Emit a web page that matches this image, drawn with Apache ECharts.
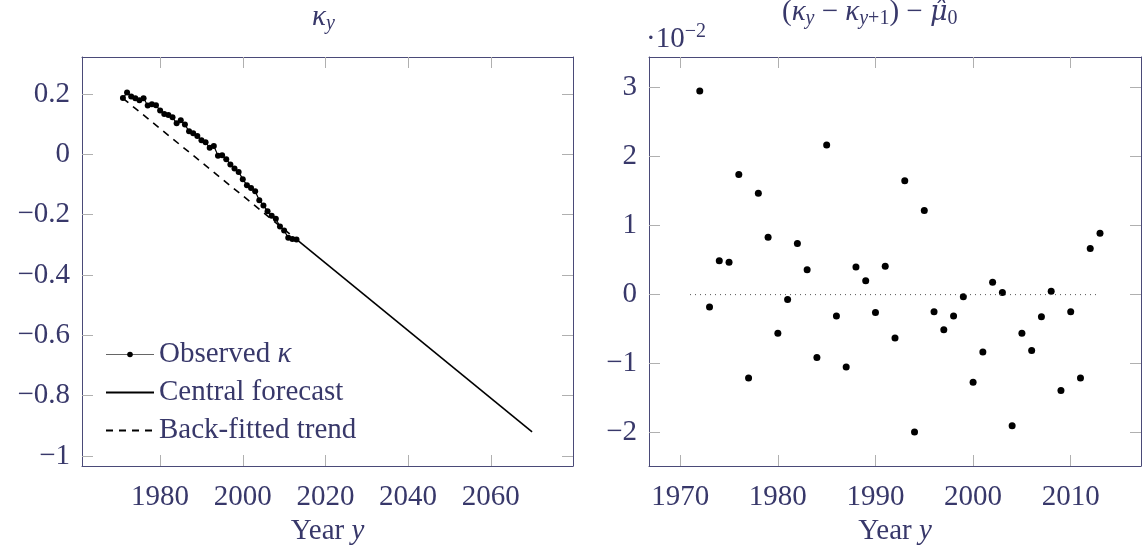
<!DOCTYPE html>
<html>
<head>
<meta charset="utf-8">
<script src="https://cdn.jsdelivr.net/npm/echarts@6/dist/echarts.min.js"></script>
<style>html,body{margin:0;padding:0;background:#fff}#c{width:1143px;height:550px}</style>
</head>
<body>
<div id="c"></div>
<script>
// ---------- data ----------
const obsYears = [1971,1972,1973,1974,1975,1976,1977,1978,1979,1980,1981,1982,1983,1984,1985,1986,1987,1988,1989,1990,1991,1992,1993,1994,1995,1996,1997,1998,1999,2000,2001,2002,2003,2004,2005,2006,2007,2008,2009,2010,2011,2012,2013];
const obsKappa = [0.187,0.205,0.192,0.186,0.180,0.186,0.162,0.166,0.163,0.146,0.134,0.131,0.123,0.103,0.113,0.099,0.077,0.070,0.061,0.047,0.040,0.022,0.028,-0.004,-0.003,-0.016,-0.033,-0.047,-0.058,-0.082,-0.102,-0.111,-0.122,-0.152,-0.169,-0.188,-0.203,-0.213,-0.239,-0.252,-0.276,-0.280,-0.282];
const forecastYears = [2013, 2070];
const forecastKappa = [-0.282, -0.920];
const trendYears = [1971, 2013];
const trendKappa = [0.186, -0.282];

const diffYears = [1972,1973,1974,1975,1976,1977,1978,1979,1980,1981,1982,1983,1984,1985,1986,1987,1988,1989,1990,1991,1992,1993,1994,1995,1996,1997,1998,1999,2000,2001,2002,2003,2004,2005,2006,2007,2008,2009,2010,2011,2012,2013];
const diffVals = [2.95,-0.18,0.49,0.47,1.74,-1.21,1.47,0.83,-0.56,-0.07,0.74,0.36,-0.91,2.17,-0.31,-1.05,0.40,0.20,-0.26,0.41,-0.63,1.65,-1.99,1.22,-0.25,-0.51,-0.31,-0.03,-1.27,-0.83,0.18,0.03,-1.90,-0.56,-0.81,-0.32,0.05,-1.39,-0.25,-1.21,0.67,0.89];
const zeroLineYears = [1971, 2013];
const zeroLineVals = [0, 0];

const leftXTicks = [1980, 2000, 2020, 2040, 2060];
const leftYTicks = [-1, -0.8, -0.6, -0.4, -0.2, 0, 0.2];
const rightXTicks = [1970, 1980, 1990, 2000, 2010];
const rightYTicks = [-2, -1, 0, 1, 2, 3];

// ---------- styling ----------
const FONT = '"Liberation Serif", "DejaVu Serif", serif';
const TXT = '#38386a';
const AXC = '#4a4a78';
const TICKC = '#b0b0b0';
const FS = 29;
const SFS = 20;

const pair = (xs, ys) => xs.map((x, i) => [x, ys[i]]);
const fmt = v => {
  let s = String(Math.round(v * 1000) / 1000);
  return s.replace('-', '\u2212');
};

function xAxis(gi, min, max, ticks, pos, showLabel, name) {
  return {
    type: 'value', gridIndex: gi, min, max, position: pos,
    axisLine: {show: true, onZero: false, lineStyle: {color: AXC, width: 1}},
    axisTick: {show: true, inside: true, length: 11, customValues: ticks, lineStyle: {color: TICKC, width: 1}},
    axisLabel: {show: showLabel, customValues: ticks, formatter: fmt, color: TXT, fontFamily: FONT, fontSize: FS, margin: 17},
    splitLine: {show: false},
    name: name || '', nameLocation: 'middle', nameGap: 47,
    nameTextStyle: {color: TXT, fontFamily: FONT, fontSize: FS,
      rich: {i: {fontStyle: 'italic', color: TXT, fontFamily: FONT, fontSize: FS}}}
  };
}
function yAxis(gi, min, max, ticks, pos, showLabel) {
  return {
    type: 'value', gridIndex: gi, min, max, position: pos,
    axisLine: {show: true, onZero: false, lineStyle: {color: AXC, width: 1}},
    axisTick: {show: true, inside: true, length: 11, customValues: ticks, lineStyle: {color: TICKC, width: 1}},
    axisLabel: {show: showLabel, customValues: ticks, formatter: fmt, color: TXT, fontFamily: FONT, fontSize: FS, margin: 12},
    splitLine: {show: false}
  };
}

const chart = echarts.init(document.getElementById('c'), null, {renderer: 'canvas'});
chart.setOption({
  backgroundColor: '#fff',
  animation: false,
  grid: [
    {left: 82, top: 57, width: 491, height: 409, outerBoundsMode: 'none', containLabel: false},
    {left: 649, top: 57, width: 492, height: 409, outerBoundsMode: 'none', containLabel: false}
  ],
  xAxis: [
    xAxis(0, 1961.1, 2079.9, leftXTicks, 'bottom', true, 'Year {i|y}'),
    xAxis(0, 1961.1, 2079.9, leftXTicks, 'top', false),
    xAxis(1, 1966.8, 2017.2, rightXTicks, 'bottom', true, 'Year {i|y}'),
    xAxis(1, 1966.8, 2017.2, rightXTicks, 'top', false)
  ],
  yAxis: [
    yAxis(0, -1.033, 0.323, leftYTicks, 'left', true),
    yAxis(0, -1.033, 0.323, leftYTicks, 'right', false),
    yAxis(1, -2.484, 3.444, rightYTicks, 'left', true),
    yAxis(1, -2.484, 3.444, rightYTicks, 'right', false)
  ],
  legend: {
    left: 100, top: 335, orient: 'vertical', itemWidth: 48, itemHeight: 7, itemGap: 9,
    textStyle: {color: TXT, fontFamily: FONT, fontSize: FS,
      rich: {i: {fontStyle: 'italic', color: TXT, fontFamily: FONT, fontSize: FS}}},
    formatter: n => n === 'Observed κ' ? 'Observed {i|κ}' : n,
    data: [
      {name: 'Observed κ', itemStyle: {color: '#000'}, lineStyle: {color: '#666', width: 1.2}},
      {name: 'Central forecast', itemStyle: {opacity: 0}},
      {name: 'Back-fitted trend', itemStyle: {opacity: 0}}
    ]
  },
  series: [
    {name: 'Back-fitted trend', type: 'line', xAxisIndex: 0, yAxisIndex: 0, data: pair(trendYears, trendKappa),
      showSymbol: false, symbol: 'none', lineStyle: {color: '#000', width: 1.6, type: [7, 6]}, itemStyle: {color: '#000'}},
    {name: 'Central forecast', type: 'line', xAxisIndex: 0, yAxisIndex: 0, data: pair(forecastYears, forecastKappa),
      showSymbol: false, symbol: 'none', lineStyle: {color: '#000', width: 1.6}, itemStyle: {color: '#000'}},
    {name: 'Observed κ', type: 'line', xAxisIndex: 0, yAxisIndex: 0, data: pair(obsYears, obsKappa),
      symbol: 'circle', symbolSize: 6, lineStyle: {color: '#000', width: 1.2}, itemStyle: {color: '#000'}},
    {type: 'line', xAxisIndex: 2, yAxisIndex: 2, data: pair(zeroLineYears, zeroLineVals),
      symbol: 'none', lineStyle: {color: '#555', width: 1, type: [1, 4]}, silent: true},
    {type: 'scatter', xAxisIndex: 2, yAxisIndex: 2, data: pair(diffYears, diffVals),
      symbol: 'circle', symbolSize: 7, itemStyle: {color: '#000', opacity: 1}}
  ],
  graphic: [
    {type: 'text', left: 312, top: 3, style: {
      text: '{i|κ}{s|y}', fill: TXT,
      rich: {i: {fontStyle: 'italic', fontFamily: FONT, fontSize: FS, fill: TXT},
             s: {fontStyle: 'italic', fontFamily: FONT, fontSize: SFS, fill: TXT, padding: [12, 0, 0, 0]}}}},
    {type: 'text', left: 782, top: -2, style: {
      text: '{n|(}{i|κ}{s|y}{n| \u2212 }{i|κ}{s|y}{u|+1}{n|) \u2212 }{m|μ\u0302}{u|0}', fill: TXT,
      rich: {n: {fontFamily: FONT, fontSize: FS, fill: TXT},
             i: {fontStyle: 'italic', fontFamily: FONT, fontSize: FS, fill: TXT},
             m: {fontStyle: 'italic', fontFamily: '"DejaVu Serif", serif', fontSize: FS - 2, fill: TXT},
             s: {fontStyle: 'italic', fontFamily: FONT, fontSize: SFS, fill: TXT, padding: [12, 0, 0, 0]},
             u: {fontFamily: FONT, fontSize: SFS, fill: TXT, padding: [12, 0, 0, 0]}}}},
    {type: 'text', left: 646, top: 22, style: {
      text: '{n|\u00b710}{e|\u22122}', fill: TXT,
      rich: {n: {fontFamily: FONT, fontSize: FS, fill: TXT},
             e: {fontFamily: FONT, fontSize: SFS, fill: TXT, padding: [0, 0, 14, 0]}}}}
  ]
});
</script>
</body>
</html>
